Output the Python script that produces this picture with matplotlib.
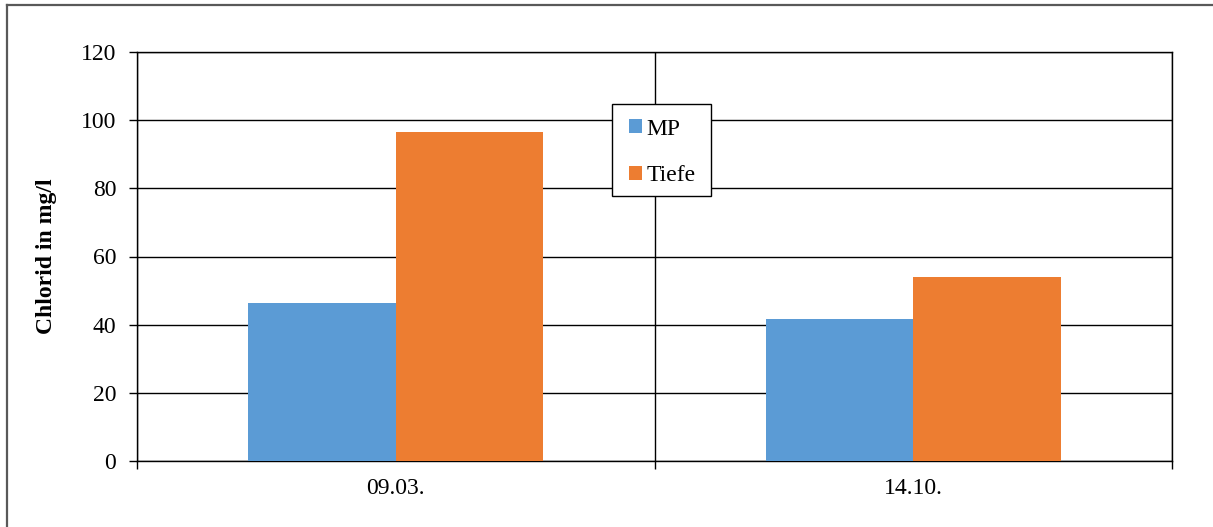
import matplotlib
matplotlib.use("Agg")
import matplotlib.pyplot as plt
from matplotlib.lines import Line2D
from matplotlib.patches import Rectangle
import numpy as np

categories = ["09.03.", "14.10."]
mp_values = [46.4, 41.7]
tiefe_values = [96.5, 54.0]
series_names = ["MP", "Tiefe"]
y_ticks = [0, 20, 40, 60, 80, 100, 120]

plt.rcParams['font.family'] = ['Liberation Serif', 'DejaVu Serif']
fs = 17

W, H = 1213, 527
fig = plt.figure(figsize=(W/100, H/100), dpi=100)
ax = fig.add_axes([137/W, 1-461/H, (1172-137)/W, (461-52)/H])

centers = np.arange(len(categories)) + 0.5
bw = 147.5/518
ax.bar(centers - bw/2, mp_values, width=bw, color="#5B9BD5", label=series_names[0], zorder=3)
ax.bar(centers + bw/2, tiefe_values, width=bw, color="#ED7D31", label=series_names[1], zorder=3)

ax.set_xlim(0, len(categories))
ax.set_ylim(0, 120)
ax.set_yticks(y_ticks)
ax.set_yticklabels([str(v) for v in y_ticks], fontsize=fs)
ax.set_xticks(np.arange(len(categories)+1))
ax.set_xticklabels([])
ax.set_xticks(centers, minor=True)
ax.set_xticklabels(categories, minor=True, fontsize=fs)
ax.tick_params(axis='x', which='minor', length=0, pad=12)
ax.tick_params(axis='x', which='major', length=6, width=1, direction='out')
ax.tick_params(axis='y', length=6, width=1, direction='out', pad=9)
ax.grid(True, axis='y', color='black', linewidth=1, zorder=0)
ax.grid(True, axis='x', which='major', color='black', linewidth=1, zorder=0)
ax.set_axisbelow(True)
for s in ax.spines.values():
    s.set_color('black')
    s.set_linewidth(1)

ax.set_ylabel("Chlorid in mg/l", fontsize=fs, fontweight='bold', labelpad=17)

# legend frame
fx0, fx1, fy0, fy1 = 612, 711, 104, 196
ax.add_patch(Rectangle(((fx0-137)/1035, (461-fy1)/409), (fx1-fx0)/1035, (fy1-fy0)/409,
                       transform=ax.transAxes, facecolor='white', edgecolor='black',
                       linewidth=1, zorder=5))
leg = ax.legend(loc='upper left', bbox_to_anchor=((612-137)/1035, (461-102)/409),
                fontsize=fs, frameon=False, handlelength=0.55, handleheight=0.55,
                handletextpad=0.2, labelspacing=1.09, borderpad=0.7, borderaxespad=0)
leg.set_zorder(6)

fig.add_artist(Line2D([6.5/W, 6.5/W], [0, 1-5/H], color='#595959', linewidth=1.6, transform=fig.transFigure))
fig.add_artist(Line2D([6.5/W, 1], [1-5/H, 1-5/H], color='#595959', linewidth=1.6, transform=fig.transFigure))

fig.savefig("out.png", dpi=100)
